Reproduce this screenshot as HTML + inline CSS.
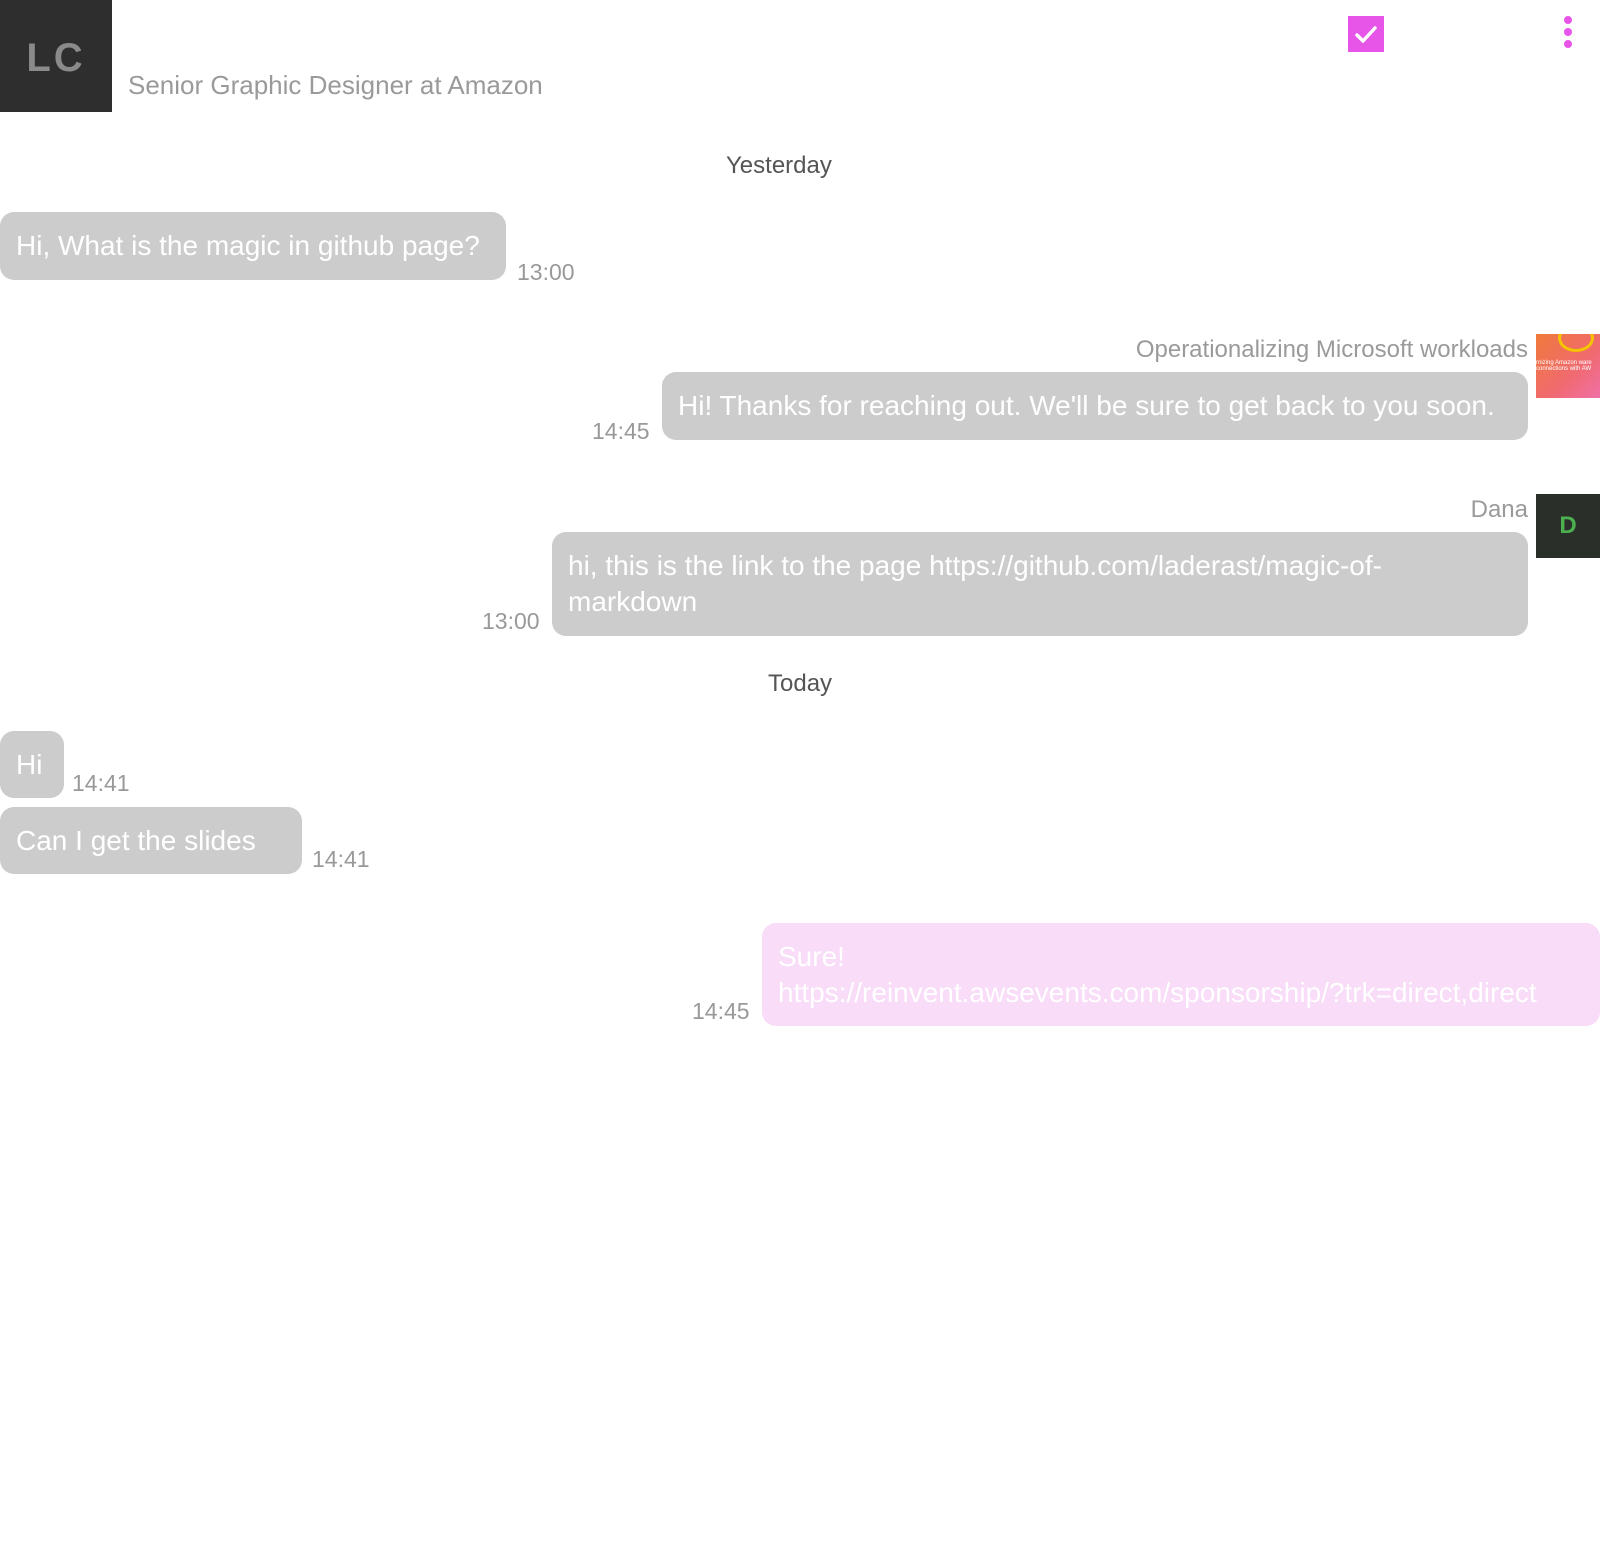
<!DOCTYPE html>
<html><head><meta charset="utf-8"><style>
body{margin:0;width:1600px;height:1564px;background:#fff;font-family:"Liberation Sans","DejaVu Sans",sans-serif;position:relative;overflow:hidden}
.a{position:absolute;white-space:nowrap}
.b{position:absolute;background:#cccccc;color:#fff;border-radius:14px;font-size:28px;padding:0 16px;box-sizing:border-box;white-space:nowrap;display:flex;flex-direction:column;justify-content:center;line-height:36px}
.t{position:absolute;color:#999;font-size:23px;white-space:nowrap}
.d{position:absolute;width:8px;height:8px;border-radius:50%;background:#e655e8;left:1564px}
</style></head><body>
<div class="a" style="left:0;top:0;width:112px;height:112px;background:#2e2e2e;color:#8a8a8a;font-size:40px;font-weight:bold;text-align:center;line-height:116px;letter-spacing:3px">LC</div>
<div class="a" style="left:128px;top:70px;font-size:26px;color:#9a9a9a">Senior Graphic Designer at Amazon</div>
<div class="a" style="left:1348px;top:16px;width:36px;height:36px;background:#e655e8"><svg width="36" height="36"><path d="M9 19 L15 25 L27 12" stroke="#fff" stroke-width="3.5" fill="none" stroke-linecap="round" stroke-linejoin="round"/></svg></div>
<div class="d" style="top:16px"></div><div class="d" style="top:28px"></div><div class="d" style="top:40px"></div>

<div class="a" style="left:726px;top:152px;font-size:24px;color:#555">Yesterday</div>
<div class="b" style="left:0;top:212px;width:506px;height:68px">Hi, What is the magic in github page?</div>
<div class="t" style="left:517px;top:259px">13:00</div>

<div class="a" style="right:72px;top:336px;font-size:24px;color:#9a9a9a">Operationalizing Microsoft workloads</div>
<div class="a" style="left:1536px;top:334px;width:64px;height:64px;background:linear-gradient(135deg,#f07a3a,#f06a70 60%,#f070a8);overflow:hidden"><div style="position:absolute;left:22px;top:-10px;width:30px;height:22px;border:3px solid #f5c400;border-radius:50%"></div><div style="position:absolute;left:0;top:26px;font-size:6px;color:#fff">rnizing Amazon ware<br>connections with AW</div></div>
<div class="b" style="left:662px;top:372px;width:866px;height:68px">Hi! Thanks for reaching out. We'll be sure to get back to you soon.</div>
<div class="t" style="left:592px;top:418px">14:45</div>

<div class="a" style="right:72px;top:496px;font-size:24px;color:#9a9a9a">Dana</div>
<div class="a" style="left:1536px;top:494px;width:64px;height:64px;background:#2a2f2a;color:#4caf50;font-size:24px;font-weight:bold;text-align:center;line-height:64px">D</div>
<div class="b" style="left:552px;top:532px;width:976px;height:104px;white-space:normal">hi, this is the link to the page https://github.com/laderast/magic-of-<br>markdown</div>
<div class="t" style="left:482px;top:608px">13:00</div>

<div class="a" style="left:768px;top:670px;font-size:24px;color:#555">Today</div>
<div class="b" style="left:0;top:731px;width:64px;height:67px">Hi</div>
<div class="t" style="left:72px;top:770px">14:41</div>
<div class="b" style="left:0;top:807px;width:302px;height:67px">Can I get the slides</div>
<div class="t" style="left:312px;top:846px">14:41</div>

<div class="b" style="left:762px;top:923px;width:838px;height:103px;background:#f8dcf8;white-space:normal">Sure!<br>https://reinvent.awsevents.com/sponsorship/?trk=direct,direct</div>
<div class="t" style="left:692px;top:998px">14:45</div>
</body></html>
